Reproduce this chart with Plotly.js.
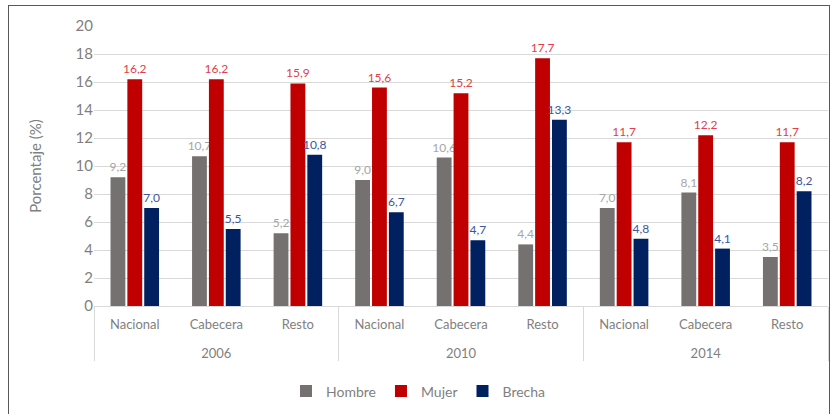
<!DOCTYPE html>
<html>
<head>
<meta charset="utf-8">
<script src="https://cdn.plot.ly/plotly-3.0.1.min.js"></script>
<style>
html,body{margin:0;padding:0;background:#fff;}
#frame{position:absolute;left:8px;top:5px;width:822px;height:420px;border:1px solid #595959;box-sizing:border-box;pointer-events:none;z-index:10;}
#chart{position:absolute;left:0;top:0;width:837px;height:414px;}
</style>
</head>
<body>
<div id="chart"></div>
<div id="frame"></div>
<script>
const years = ['2006','2006','2006','2010','2010','2010','2014','2014','2014'];
const zones = ['Nacional','Cabecera','Resto','Nacional','Cabecera','Resto','Nacional','Cabecera','Resto'];
const hombre = [9.2, 10.7, 5.2, 9.0, 10.6, 4.4, 7.0, 8.1, 3.5];
const mujer  = [16.2, 16.2, 15.9, 15.6, 15.2, 17.7, 11.7, 12.2, 11.7];
const brecha = [7.0, 5.5, 10.8, 6.7, 4.7, 13.3, 4.8, 4.1, 8.2];
const yTicks = [0,2,4,6,8,10,12,14,16,18,20];

const FONT = 'Lato, Calibri, Carlito, "Liberation Sans", Arial, sans-serif';
const zoneLabels = zones.map(z => z + '<br> ');

function mk(name, vals, color, tcolor){
  return {
    type:'bar', name:name, x:[years, zoneLabels], y:vals,
    marker:{color:color},
    texttemplate:'%{y:.1f}', textposition:'outside', cliponaxis:false,
    constraintext:'none',
    textfont:{family:FONT, size:12, color:tcolor},
    hoverinfo:'skip'
  };
}
const data = [
  mk('Hombre', hombre, '#767171', '#a6a6a6'),
  mk('Mujer', mujer, '#c00000', '#e0404a'),
  mk('Brecha', brecha, '#002060', '#3a56a0')
];
const layout = {
  width:837, height:414,
  margin:{l:94, r:9, t:26, b:108, autoexpand:false},
  paper_bgcolor:'#fff', plot_bgcolor:'#fff',
  separators:',.',
  font:{family:FONT, color:'#7f7f7f', size:13},
  barmode:'group', bargap:0.38, bargroupgap:0.12,
  showlegend:true,
  legend:{orientation:'h', x:0.5, xanchor:'center', xref:'container', yref:'container', y:0.093, yanchor:'top', itemwidth:30,
          font:{size:14, color:'#7f7f7f'}, traceorder:'normal'},
  xaxis:{type:'multicategory', showline:true, linecolor:'#d9d9d9', linewidth:1,
         showdividers:true, dividercolor:'#d9d9d9', dividerwidth:1, automargin:false,
         ticklabelstandoff:6,
         tickfont:{size:13, color:'#7f7f7f'}, ticks:'', showgrid:false},
  yaxis:{range:[0,20], tickvals:yTicks, ticktext:yTicks.map(String), automargin:false,
         showgrid:true, gridcolor:'#d9d9d9', gridwidth:1, zeroline:false,
         showline:false, tickfont:{size:15, color:'#7f7f7f'},
         title:{text:'Porcentaje (%)', font:{size:15, color:'#7f7f7f'}, standoff:30}}
};
Plotly.newPlot('chart', data, layout, {displayModeBar:false, staticPlot:true});
</script>
</body>
</html>
